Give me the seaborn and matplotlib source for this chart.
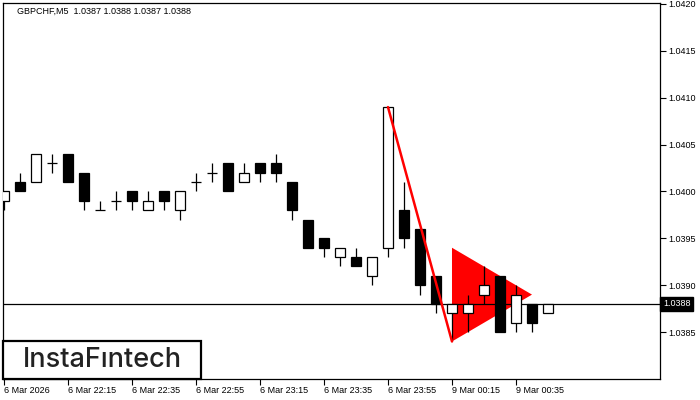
import seaborn as sns
import matplotlib.pyplot as plt
from matplotlib.patches import Polygon, Rectangle

# GBPCHF M5 candles
opens = [1.0399, 1.0401, 1.0401, 1.0403, 1.0404, 1.0402, 1.0398, 1.0399, 1.0400, 1.0398,
         1.0400, 1.0398, 1.0401, 1.0402, 1.0403, 1.0401, 1.0403, 1.0403, 1.0401, 1.0397,
         1.0395, 1.0393, 1.0393, 1.0391, 1.0394, 1.0398, 1.0396, 1.0391, 1.0387, 1.0387,
         1.0389, 1.0391, 1.0386, 1.0388, 1.0387]
highs = [1.0400, 1.0402, 1.0404, 1.0404, 1.0404, 1.0402, 1.0399, 1.0400, 1.0400, 1.0400,
         1.0400, 1.0400, 1.0402, 1.0403, 1.0403, 1.0403, 1.0403, 1.0404, 1.0401, 1.0397,
         1.0395, 1.0394, 1.0394, 1.0393, 1.0409, 1.0401, 1.0396, 1.0391, 1.0388, 1.0389,
         1.0392, 1.0391, 1.0390, 1.0388, 1.0388]
lows = [1.0398, 1.0400, 1.0401, 1.0402, 1.0401, 1.0398, 1.0398, 1.0398, 1.0398, 1.0398,
        1.0398, 1.0397, 1.0400, 1.0401, 1.0400, 1.0401, 1.0401, 1.0401, 1.0397, 1.0394,
        1.0393, 1.0392, 1.0392, 1.0390, 1.0393, 1.0394, 1.0389, 1.0387, 1.0384, 1.0385,
        1.0388, 1.0385, 1.0385, 1.0385, 1.0387]
closes = [1.0400, 1.0400, 1.0404, 1.0403, 1.0401, 1.0399, 1.0398, 1.0399, 1.0399, 1.0399,
          1.0399, 1.0400, 1.0401, 1.0402, 1.0400, 1.0402, 1.0402, 1.0402, 1.0398, 1.0394,
          1.0394, 1.0394, 1.0392, 1.0393, 1.0409, 1.0395, 1.0390, 1.0388, 1.0388, 1.0388,
          1.0390, 1.0385, 1.0389, 1.0386, 1.0388]

tick_pos = [0, 4, 8, 12, 16, 20, 24, 28, 32]
tick_labels = ["6 Mar 2026", "6 Mar 22:15", "6 Mar 22:35", "6 Mar 22:55", "6 Mar 23:15",
               "6 Mar 23:35", "6 Mar 23:55", "9 Mar 00:15", "9 Mar 00:35"]
y_ticks = [1.0385, 1.0390, 1.0395, 1.0400, 1.0405, 1.0410, 1.0415, 1.0420]

last_price = 1.0388
# bearish pennant: pole and triangle
pole_x = [24, 28]
pole_y = [1.0409, 1.0384]
tri_x = [28, 28, 33]
tri_y = [1.0394, 1.0384, 1.0389]

sns.set_style("white")
plt.rcParams['font.family'] = ['Liberation Sans', 'DejaVu Sans']

fig = plt.figure(figsize=(7, 4), dpi=100)
ax = fig.add_axes([3 / 700, 21 / 400, 657 / 700, 376 / 400])

ax.add_patch(Polygon(list(zip(tri_x, tri_y)), closed=True, facecolor="red",
                     edgecolor="none", zorder=1))
ax.axhline(last_price, color="black", lw=0.9, zorder=2)

w = 0.62
for i, (o, h, l, c) in enumerate(zip(opens, highs, lows, closes)):
    ax.vlines(i, l, h, color="black", lw=0.9, zorder=3)
    lo, hi = min(o, c), max(o, c)
    if hi - lo < 1e-6:
        ax.hlines(o, i - w / 2, i + w / 2, color="black", lw=0.9, zorder=4)
    else:
        fc = "white" if c > o else "black"
        ax.add_patch(Rectangle((i - w / 2, lo), w, hi - lo, facecolor=fc,
                               edgecolor="black", lw=0.9, zorder=4))

ax.plot(pole_x, pole_y, color="red", lw=1.8, zorder=5)

ax.set_xlim(-0.06, 41.0)
ax.set_ylim(1.03800, 1.04201)
ax.yaxis.tick_right()
ax.set_yticks(y_ticks)
ax.set_yticklabels([f"{v:.4f}" for v in y_ticks])
ax.set_xticks(tick_pos)
ax.set_xticklabels(tick_labels)
for lbl in ax.get_xticklabels():
    lbl.set_ha("left")
ax.tick_params(axis="both", direction="out", length=4, width=0.8, labelsize=6.5,
               colors="black", pad=2)
ax.tick_params(axis="x", bottom=True, pad=1)
ax.tick_params(axis="y", right=True, pad=2)
for s in ax.spines.values():
    s.set_visible(True)
    s.set_color("black")
    s.set_linewidth(0.9)

fig.text(17 / 700, 1 - 11 / 400, "GBPCHF,M5  1.0387 1.0388 1.0387 1.0388",
         fontsize=6.5, va="center", ha="left", color="black")

ax.annotate(f"{last_price:.4f}", xy=(1, last_price), xycoords=("axes fraction", "data"),
            xytext=(2.2, 0), textcoords="offset points", va="center", ha="left",
            fontsize=6.5, color="white",
            bbox=dict(boxstyle="square,pad=0.3", facecolor="black", edgecolor="black"))

# logo box
fig.patches.append(Rectangle((3 / 700, 21 / 400), 198 / 700, 38 / 400,
                             transform=fig.transFigure, facecolor="white",
                             edgecolor="black", lw=1.6, zorder=10))
fig.text(102 / 700, 1 - 360 / 400, "InstaFıntech", fontsize=19.5, ha="center",
         va="center", color="#222222", family=["Inter", "DejaVu Sans"],
         fontweight="medium", zorder=11)

fig.savefig("out.png", dpi=100)
